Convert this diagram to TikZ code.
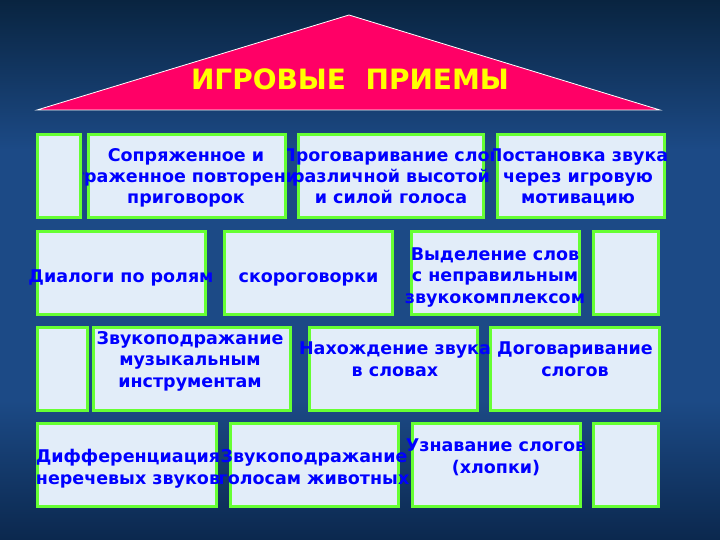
\documentclass[tikz,border=0pt]{standalone}
\usepackage{fontspec}
\setmainfont{DejaVu Sans}
\definecolor{bgtop}{RGB}{9,36,64}
\definecolor{bgmid}{RGB}{28,74,134}
\definecolor{bgbot}{RGB}{11,40,78}
\definecolor{roof}{RGB}{255,0,102}
\definecolor{boxfill}{RGB}{226,237,249}
\definecolor{boxline}{RGB}{102,255,51}
\definecolor{txtblue}{RGB}{0,0,255}
\definecolor{titleyellow}{RGB}{255,255,0}
\tikzset{
  tile/.style={draw=boxline, line width=3pt, fill=boxfill, inner sep=0pt, outer sep=0pt, minimum height=83pt},
  label/.style={text=txtblue, align=center, inner sep=0pt, anchor=base,
    font=\bfseries\fontsize{17.5}{21.3}\selectfont},
  heading/.style={text=titleyellow, inner sep=0pt, anchor=base,
    font=\bfseries\fontsize{28}{30}\selectfont}
}
\begin{document}
\begin{tikzpicture}[x=1pt,y=-1pt]
\useasboundingbox (0,0) rectangle (720,540);
% background
\shade[top color=bgtop, bottom color=bgmid] (0,0) rectangle (720,150);
\fill[bgmid] (0,149.5) rectangle (720,400.5);
\shade[top color=bgmid, bottom color=bgbot] (0,400) rectangle (720,540);
% roof
\draw[white, line width=0.8pt, fill=roof, line join=miter] (349,15) -- (660,110) -- (37,110) -- cycle;
\node[heading] (title) at (350,90) {ИГРОВЫЕ\ \ ПРИЕМЫ};
% row 1
\node[tile, minimum width=43pt]  (r1a) at (59,176) {};
\node[tile, minimum width=197pt] (r1b) at (187,176) {};
\node[tile, minimum width=185pt] (r1c) at (391,176) {};
\node[tile, minimum width=167pt] (r1d) at (581,176) {};
% row 2
\node[tile, minimum width=168pt] (r2a) at (121.5,273) {};
\node[tile, minimum width=168pt] (r2b) at (308.5,273) {};
\node[tile, minimum width=168pt] (r2c) at (495.5,273) {};
\node[tile, minimum width=65pt]  (r2d) at (626,273) {};
% row 3
\node[tile, minimum width=50pt]  (r3a) at (62.5,369) {};
\node[tile, minimum width=197pt] (r3b) at (192,369) {};
\node[tile, minimum width=168pt] (r3c) at (393.5,369) {};
\node[tile, minimum width=169pt] (r3d) at (575,369) {};
% row 4
\node[tile, minimum width=179pt] (r4a) at (127,465) {};
\node[tile, minimum width=168pt] (r4b) at (314.5,465) {};
\node[tile, minimum width=168pt] (r4c) at (496.5,465) {};
\node[tile, minimum width=65pt]  (r4d) at (626,465) {};
% texts (anchor base = baseline of the last line)
\begin{scope}
  \clip (83,120) rectangle (297,225);
  \node[label] (t1b) at (186,204) {Сопряженное и\\отраженное повторение\\приговорок};
\end{scope}
\begin{scope}
  \clip (287,120) rectangle (493,225);
  \node[label] (t1c) at (391,204) {Проговаривание слов\\различной высотой\\и силой голоса};
\end{scope}
\begin{scope}
  \clip (493,120) rectangle (720,225);
  \node[label] (t1d) at (578,204) {Постановка звука\\через игровую\\мотивацию};
\end{scope}
\node[label] (t2a) at (121,282) {Диалоги по ролям};
\node[label] (t2b) at (308.5,282) {скороговорки};
\node[label] (t2c) at (495,303) {Выделение слов\\с неправильным\\звукокомплексом};
\node[label] (t3b) at (190,387) {Звукоподражание\\музыкальным\\инструментам};
\node[label] (t3c) at (395,376) {Нахождение звука\\в словах};
\node[label] (t3d) at (575,376) {Договаривание\\слогов};
\begin{scope}
  \clip (0,415) rectangle (225,515);
  \node[label] (t4a) at (128,484) {Дифференциация\\неречевых звуков};
\end{scope}
\node[label] (t4b) at (314,484) {Звукоподражание\\голосам животных};
\node[label] (t4c) at (496,473) {Узнавание слогов\\(хлопки)};
\end{tikzpicture}
\end{document}
